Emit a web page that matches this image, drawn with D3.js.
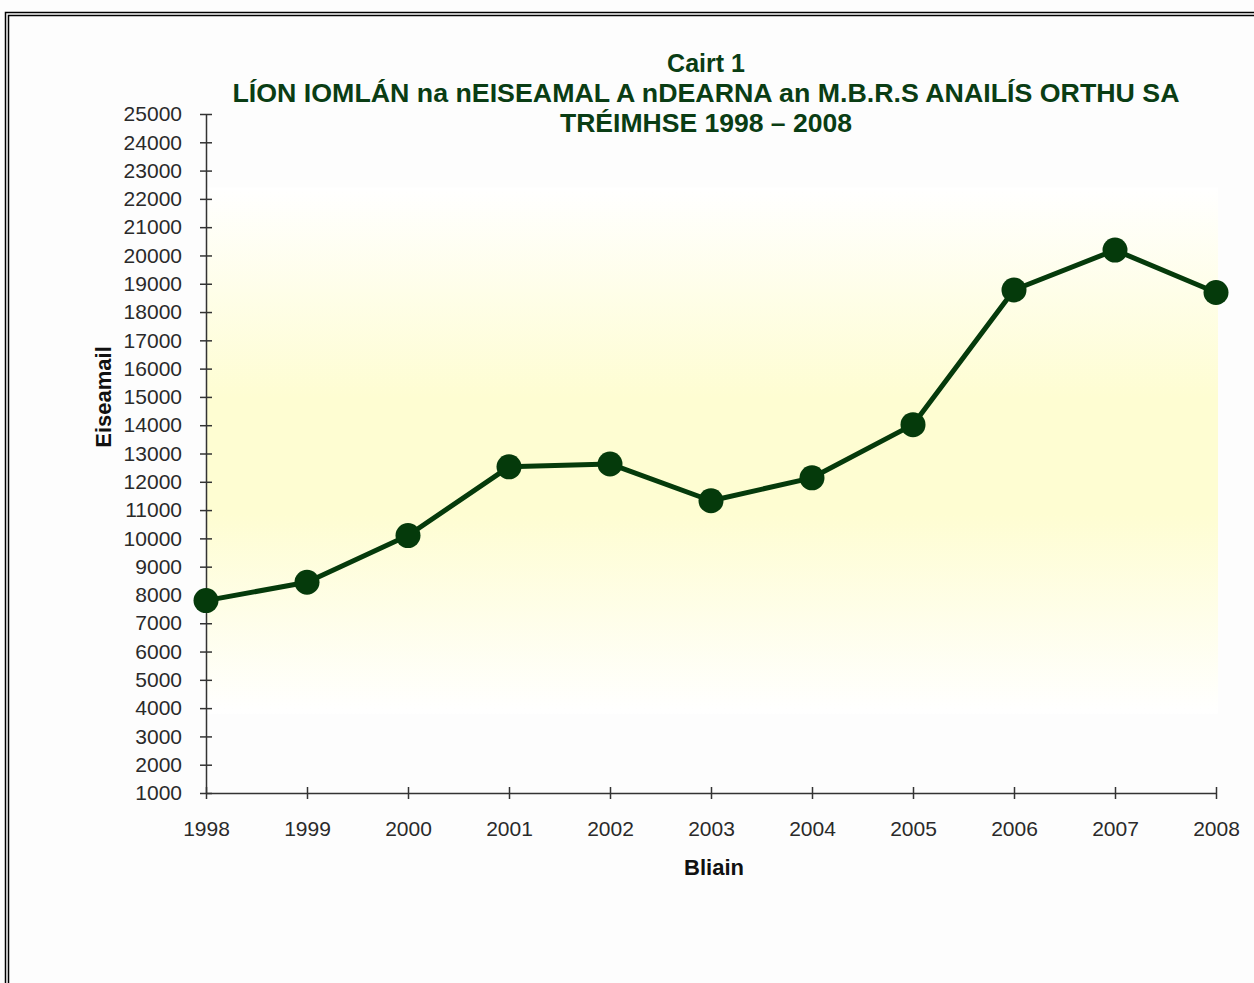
<!DOCTYPE html>
<html>
<head>
<meta charset="utf-8">
<script src="https://cdn.jsdelivr.net/npm/d3@7"></script>
<style>
  html, body { margin: 0; padding: 0; background: #fdfdfd; }
  svg { display: block; }
</style>
</head>
<body>
<script>
const years = [1998, 1999, 2000, 2001, 2002, 2003, 2004, 2005, 2006, 2007, 2008];
const samples = [7800, 8450, 10100, 12530, 12630, 11330, 12140, 14020, 18780, 20190, 18690];
const yTicks = d3.range(1000, 25001, 1000);
const titleLines = ["Cairt 1", "LÍON IOMLÁN na nEISEAMAL A nDEARNA an M.B.R.S ANAILÍS ORTHU SA", "TRÉIMHSE 1998 – 2008"];
const xTitle = "Bliain";
const yTitle = "Eiseamail";

const W = 1254, H = 983;
const svg = d3.select("body").append("svg").attr("width", W).attr("height", H);

// double frame
svg.append("rect").attr("x", 5.5).attr("y", 12.5).attr("width", 1300).attr("height", 1100)
  .attr("fill", "none").attr("stroke", "#000").attr("stroke-width", 1.5);
svg.append("rect").attr("x", 8.5).attr("y", 15.5).attr("width", 1300).attr("height", 1100)
  .attr("fill", "none").attr("stroke", "#000").attr("stroke-width", 1.5);

const x = d3.scaleLinear().domain([1998, 2008]).range([206, 1216]);
const y = d3.scaleLinear().domain([1000, 25000]).range([793, 114]);

// gradient plot background
const defs = svg.append("defs");
const grad = defs.append("linearGradient").attr("id", "bg").attr("x1", 0).attr("y1", 0).attr("x2", 0).attr("y2", 1);
grad.append("stop").attr("offset", "0%").attr("stop-color", "#ffffff");
grad.append("stop").attr("offset", "40%").attr("stop-color", "#fefdd2");
grad.append("stop").attr("offset", "62%").attr("stop-color", "#fefdd2");
grad.append("stop").attr("offset", "100%").attr("stop-color", "#ffffff");
svg.append("rect").attr("x", x(1998)).attr("y", y(22400)).attr("width", x(2008) + 2 - x(1998))
  .attr("height", y(3800) - y(22400)).attr("fill", "url(#bg)");

const font = "Liberation Sans, Arial, sans-serif";

// title
const title = svg.append("text").attr("text-anchor", "middle")
  .attr("font-family", font).attr("font-weight", "bold")
  .attr("font-size", 25).attr("fill", "#0a3d14");
const titleWidths = [null, 947, 292];
titleLines.forEach((t, i) => {
  const ts = title.append("tspan").attr("x", 706).attr("y", 72 + i * 30).text(t);
  if (titleWidths[i]) ts.attr("textLength", titleWidths[i]).attr("lengthAdjust", "spacingAndGlyphs");
});

// y axis
const gy = svg.append("g").attr("transform", `translate(${x(1998)},0)`)
  .call(d3.axisLeft(y).tickValues(yTicks).tickFormat(d3.format("d")).tickSize(6).tickSizeOuter(0));
gy.select(".domain").attr("stroke", "#333").attr("stroke-width", 1.5);
gy.selectAll(".tick line").attr("x1", -6).attr("x2", 6).attr("stroke", "#333").attr("stroke-width", 1.5);
gy.selectAll(".tick text").attr("x", -24).attr("font-family", font).attr("font-size", 21).attr("fill", "#2a2a2a");

// x axis
const gx = svg.append("g").attr("transform", `translate(0,${y(1000)})`)
  .call(d3.axisBottom(x).tickValues(years).tickFormat(d3.format("d")).tickSize(6).tickSizeOuter(0));
gx.select(".domain").attr("stroke", "#333").attr("stroke-width", 1.5);
gx.selectAll(".tick line").attr("y1", -6).attr("y2", 6).attr("stroke", "#333").attr("stroke-width", 1.5);
gx.selectAll(".tick text").attr("y", 36).attr("dy", "0.35em").attr("font-family", font).attr("font-size", 21).attr("fill", "#2a2a2a");

// axis titles
svg.append("text").attr("x", 714).attr("y", 875).attr("text-anchor", "middle")
  .attr("font-family", font).attr("font-weight", "bold").attr("font-size", 22).attr("fill", "#111").text(xTitle);
svg.append("text").attr("transform", "translate(111,397) rotate(-90)").attr("text-anchor", "middle")
  .attr("font-family", font).attr("font-weight", "bold").attr("font-size", 22).attr("fill", "#111").text(yTitle);

// line + markers
const data = years.map((yr, i) => ({ yr, v: samples[i] }));
svg.append("path").datum(data)
  .attr("d", d3.line().x(d => x(d.yr)).y(d => y(d.v)))
  .attr("fill", "none").attr("stroke", "#053a0b").attr("stroke-width", 5).attr("stroke-linejoin", "round");
svg.selectAll("circle.pt").data(data).join("circle").attr("class", "pt")
  .attr("cx", d => x(d.yr)).attr("cy", d => y(d.v)).attr("r", 12.5).attr("fill", "#053a0b");
</script>
</body>
</html>
